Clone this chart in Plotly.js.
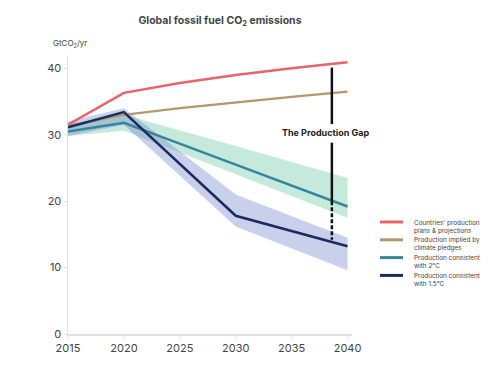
<!DOCTYPE html>
<html>
<head>
<meta charset="utf-8">
<script src="https://cdn.plot.ly/plotly-3.0.1.min.js"></script>
<style>html,body{margin:0;padding:0;background:#fff;}#chart{width:500px;height:380px;}</style>
</head>
<body>
<div id="chart"></div>
<script>
// ---- data ----
const years = [2015, 2020, 2025, 2030, 2035, 2040];
const plansValues = [31.5, 36.3, 37.8, 39.0, 40.0, 40.9];
const pledgesValues = [31.3, 33.0, 34.0, 34.9, 35.7, 36.5];
const scenarioYears = [2015, 2020, 2030, 2040];
const twoDegValues = [30.5, 31.8, 25.5, 19.2];
const twoDegUpper = [31.6, 33.0, 28.3, 23.5];
const twoDegLower = [29.8, 30.6, 24.0, 17.5];
const onePointFiveValues = [31.1, 33.4, 17.8, 13.2];
const onePointFiveUpper = [32.0, 34.0, 21.0, 14.5];
const onePointFiveLower = [29.8, 31.5, 16.2, 9.6];
const seriesLine1 = ["Countries' production", "Production implied by", "Production consistent", "Production consistent"];
const seriesLine2 = ["plans & projections", "climate pledges", "with 2°C", "with 1.5°C"];
const xTicks = [2015, 2020, 2025, 2030, 2035, 2040];
const yTicks = [0, 10, 20, 30, 40];
const gapYear = 2038.6;
const gapTop = 40.1;
const gapLabelTop = 31.6;
const gapLabelBottom = 28.8;
const gapSolidEnd = 20.0;
const gapBottom = 14.2;
const gapLabel = "The Production Gap";

// ---- styles ----
const colors = ['#e8646a', '#b09a6c', '#35869c', '#1b2b5e'];
const font = 'Inter, Roboto, "Open Sans", sans-serif';
const W = 500, H = 380, M = {l: 68, r: 148, t: 55, b: 46};
const pw = W - M.l - M.r, ph = H - M.t - M.b;
const px = v => (v - M.l) / pw;          // pixel -> paper x
const py = v => (H - M.b - v) / ph;      // pixel -> paper y

function band(xs, up, lo, color) {
  return {
    x: xs.concat(xs.slice().reverse()),
    y: up.concat(lo.slice().reverse()),
    fill: 'toself', fillcolor: color, line: {width: 0},
    mode: 'lines', showlegend: false, hoverinfo: 'skip', type: 'scatter'
  };
}
function line(xs, ys, i, w) {
  return {x: xs, y: ys, name: seriesLine1[i] + ' ' + seriesLine2[i], mode: 'lines',
          line: {color: colors[i], width: w}, type: 'scatter', showlegend: false};
}

const traces = [
  band(scenarioYears, twoDegUpper, twoDegLower, 'rgba(140,214,186,0.5)'),
  band(scenarioYears, onePointFiveUpper, onePointFiveLower, 'rgba(120,138,205,0.4)'),
  line(years, plansValues, 0, 2.5),
  line(years, pledgesValues, 1, 2.2),
  line(scenarioYears, twoDegValues, 2, 2.5),
  line(scenarioYears, onePointFiveValues, 3, 2.5)
];

const shapes = [
  {type: 'line', xref: 'x', yref: 'y', x0: gapYear, x1: gapYear, y0: gapTop, y1: gapLabelTop, line: {color: '#111', width: 2.5}},
  {type: 'line', xref: 'x', yref: 'y', x0: gapYear, x1: gapYear, y0: gapLabelBottom, y1: gapSolidEnd, line: {color: '#111', width: 2.5}},
  {type: 'line', xref: 'x', yref: 'y', x0: gapYear, x1: gapYear, y0: gapSolidEnd, y1: gapBottom, line: {color: '#111', width: 2.5, dash: '4px,2px'}}
];
const annotations = [
  {text: '<b>' + gapLabel + '</b>', xref: 'x', yref: 'y', x: 2034.0, y: 30.3, xanchor: 'left', yanchor: 'middle',
   showarrow: false, font: {size: 9, color: '#222', family: font}},
  {text: 'GtCO<sub>2</sub>/yr', xref: 'paper', yref: 'paper', x: px(51), y: py(43), xanchor: 'left', yanchor: 'middle',
   showarrow: false, font: {size: 8, color: '#444', family: font}}
];
// manual legend
const legTop = 222, legStep = 17.8;
for (let i = 0; i < 4; i++) {
  const yy = legTop + i * legStep;
  shapes.push({type: 'line', xref: 'paper', yref: 'paper', x0: px(380), x1: px(403), y0: py(yy), y1: py(yy),
               line: {color: colors[i], width: 3}});
  annotations.push({text: seriesLine1[i] + '<br>' + seriesLine2[i], xref: 'paper', yref: 'paper', x: px(413), y: py(yy - 4.5),
                    xanchor: 'left', yanchor: 'top', align: 'left', borderpad: 0,
                    showarrow: false, font: {size: 6.4, color: '#444', family: font}});
}

const layout = {
  width: W, height: H,
  margin: M,
  paper_bgcolor: '#fff', plot_bgcolor: '#fff',
  font: {family: font, color: '#444', size: 11},
  title: {text: '<b>Global fossil fuel CO<sub>2</sub> emissions</b>', x: 0.44, xanchor: 'center', y: 0.947, yanchor: 'middle',
          font: {size: 10.5, color: '#444', family: font}},
  xaxis: {range: [2015, 2040.4], tickvals: xTicks, showgrid: false, zeroline: false,
          showline: true, linecolor: '#e2e2e2', linewidth: 1.5, ticks: 'outside', ticklen: 3, tickcolor: '#e2e2e2',
          tickfont: {size: 11, color: '#444'}, fixedrange: true},
  yaxis: {range: [0, 42], tickvals: yTicks, showgrid: false, zeroline: false,
          showline: true, linecolor: '#e2e2e2', linewidth: 1.5, ticks: 'outside', ticklen: 3, tickcolor: '#e2e2e2',
          tickfont: {size: 11, color: '#444'}, fixedrange: true},
  showlegend: false,
  shapes: shapes,
  annotations: annotations
};

Plotly.newPlot('chart', traces, layout, {displayModeBar: false, staticPlot: true});
</script>
</body>
</html>
